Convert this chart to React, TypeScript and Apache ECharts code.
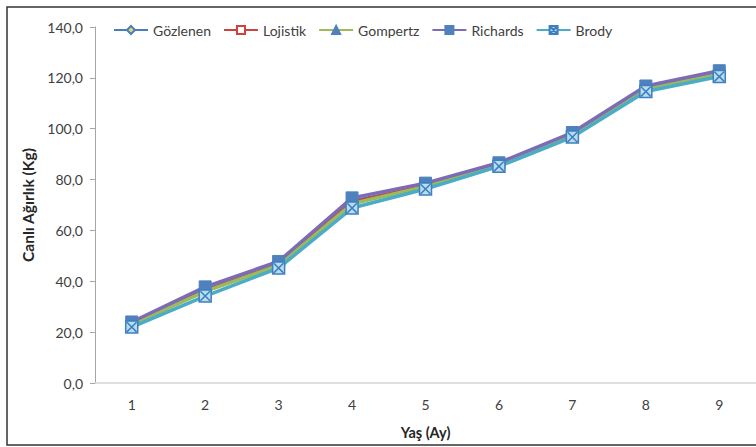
import React, { useEffect, useRef } from "react";
import * as echarts from "echarts";

const categories = ["1", "2", "3", "4", "5", "6", "7", "8", "9"];
const gozlenen = [23.0, 36.5, 46.5, 71.5, 77.5, 86.0, 97.5, 115.5, 121.5];
const lojistik = [23.2, 36.2, 46.5, 71.0, 77.5, 86.0, 97.6, 115.8, 121.8];
const gompertz = [23.0, 36.0, 46.3, 70.5, 77.3, 85.8, 97.5, 115.6, 121.5];
const richards = [24.0, 37.8, 47.8, 72.8, 78.6, 86.6, 98.5, 116.8, 122.8];
const brody = [22.0, 34.2, 45.2, 68.8, 76.3, 85.2, 96.7, 114.6, 120.5];

const FONT = "Lato, 'Open Sans', sans-serif";
const BRODY_SYMBOL = "path://M0,0L10,0L10,10L0,10Z M1,1L9,9 M9,1L1,9";

export default function App() {
  const ref = useRef<HTMLDivElement>(null);
  useEffect(() => {
    if (!ref.current) return;
    const chart = echarts.init(ref.current, null, { renderer: "svg" });
    const line = (name: string, data: number[], color: string, symbol: string, symbolSize: number, itemStyle: any, z: number) => ({
      name,
      type: "line",
      data,
      symbol,
      symbolSize,
      lineStyle: { color, width: 3.5 },
      itemStyle,
      z,
    });
    chart.setOption({
      animation: false,
      backgroundColor: "#ffffff",
      textStyle: { fontFamily: FONT },
      grid: { left: 95, right: 0, top: 27, bottom: 64, containLabel: false },
      legend: {
        top: 18,
        left: 108,
        itemWidth: 34,
        itemHeight: 10,
        itemGap: 12,
        textStyle: { fontFamily: FONT, fontSize: 14, color: "#404040" },
        data: ["Gözlenen", "Lojistik", "Gompertz", "Richards", "Brody"],
      },
      xAxis: {
        type: "category",
        data: categories,
        boundaryGap: true,
        name: "Yaş (Ay)",
        nameLocation: "middle",
        nameGap: 42,
        nameTextStyle: { fontFamily: FONT, fontSize: 14.5, fontWeight: "bold", color: "#262626" },
        axisLine: { lineStyle: { color: "#d9d4d0", width: 1.5 } },
        axisTick: { show: false },
        axisLabel: { fontFamily: FONT, fontSize: 14, color: "#404040", margin: 14 },
      },
      yAxis: {
        type: "value",
        min: 0,
        max: 140,
        interval: 20,
        name: "Canlı Ağırlık (Kg)",
        nameLocation: "middle",
        nameGap: 58,
        nameTextStyle: { fontFamily: FONT, fontSize: 15.5, fontWeight: "bold", color: "#262626" },
        axisLine: { show: true, lineStyle: { color: "#a6a6a6" } },
        axisTick: { show: true, inside: false, length: 5, lineStyle: { color: "#a6a6a6" } },
        splitLine: { show: false },
        axisLabel: {
          fontFamily: FONT,
          fontSize: 14,
          color: "#404040",
          margin: 12,
          formatter: (v: number) => v.toFixed(1).replace(".", ","),
        },
      },
      graphic: [
        {
          type: "rect",
          shape: { x: 7, y: 7, width: 760, height: 438 },
          style: { fill: "none", stroke: "#333333", lineWidth: 1.5 },
          silent: true,
        },
      ],
      series: [
        line("Gözlenen", gozlenen, "#4a7ebb", "diamond", 10, { color: "#e8d57a", borderColor: "#4a7ebb", borderWidth: 1 }, 2),
        line("Lojistik", lojistik, "#d0413e", "rect", 10, { color: "#ffffff", borderColor: "#d0413e", borderWidth: 1 }, 3),
        line("Gompertz", gompertz, "#9bbb59", "triangle", 10, { color: "#4f81bd", borderColor: "#4f81bd", borderWidth: 1 }, 4),
        line("Richards", richards, "#7e6bb5", "rect", 12, { color: "#4f81bd", borderColor: "#4f81bd", borderWidth: 1 }, 5),
        line("Brody", brody, "#4bacc6", BRODY_SYMBOL, 12, { color: "#b9dcef", borderColor: "#3d7fc0", borderWidth: 1.5 }, 6),
      ],
    });
    return () => chart.dispose();
  }, []);
  return (
    <div
      ref={ref}
      style={{ position: "absolute", left: 0, top: 0, width: 756, height: 447 }}
    />
  );
}
